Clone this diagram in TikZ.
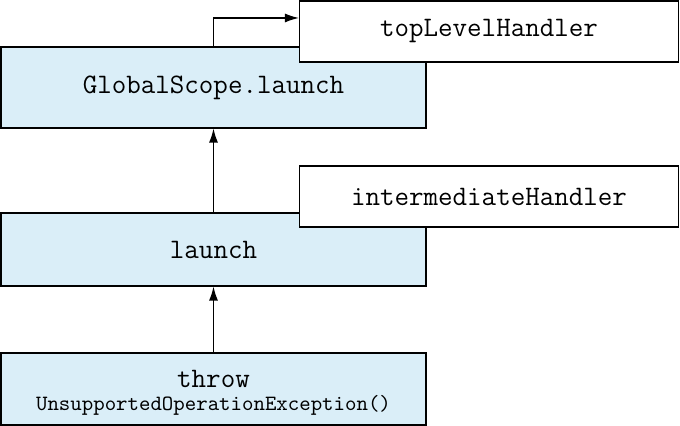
\documentclass[tikz,border=0pt]{standalone}
\usepackage{tikz}
\usetikzlibrary{arrows.meta,positioning,calc}
\definecolor{scopeblue}{HTML}{DAEEF8}
\newcommand{\bigcode}{\ttfamily\fontsize{14.1}{16}\selectfont}
\newcommand{\smallcode}{\ttfamily\fontsize{10.9}{12}\selectfont}

\begin{document}
\begin{tikzpicture}[x=0.5pt, y=-0.5pt,
    scopebox/.style={draw, fill=scopeblue, line width=0.6pt, inner sep=0pt,
      minimum width=212.5pt, align=center, font=\bigcode},
    handlerbox/.style={draw, fill=white, line width=0.6pt, inner sep=0pt,
      minimum width=189.5pt, minimum height=30.5pt, font=\bigcode},
    up/.style={-{Latex[length=7pt,width=4.5pt]}, line width=0.6pt}]
            \useasboundingbox (0,0) rectangle (680,426);
            % coroutine scopes
            \node[scopebox, minimum height=40.5pt] (global) at (213.5,87.5) {GlobalScope.launch};
            \node[scopebox, minimum height=36.5pt] (launch) at (213.5,249.5) {launch};
            \node[scopebox, minimum height=36pt] (throw) at (213.5,389) {\rule{0pt}{12.5pt}throw\\[-4.5pt]{\smallcode UnsupportedOperationException()}};
            
            % handlers
            \node[handlerbox] (top) at (489,31.5) {topLevelHandler};
            \node[handlerbox] (inter) at (489,196.5) {intermediateHandler};
            
            \draw[up] (throw.north) -- (launch.south);
            \draw[up] (launch.north) -- (global.south);
            \draw[up] (global.north) |- ($(top.west)+(0,-13.5)$);
        \end{tikzpicture}
\end{document}
